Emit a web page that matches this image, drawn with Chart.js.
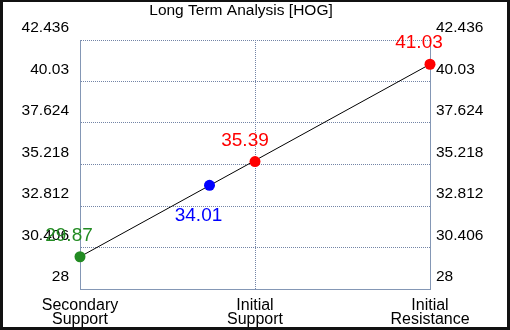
<!DOCTYPE html>
<html>
<head>
<meta charset="utf-8">
<script src="https://cdn.jsdelivr.net/npm/chart.js@4"></script>
<style>
html, body { margin: 0; padding: 0; background: #fff; }
canvas { display: block; }
</style>
</head>
<body>
<canvas id="levelsChart" width="510" height="330"></canvas>
<script>
// Chart data
const chartTitle = 'Long Term Analysis [HOG]';
const categories = [['Secondary', 'Support'], ['Initial', 'Support'], ['Initial', 'Resistance']];
const yTicks = [28, 30.406, 32.812, 35.218, 37.624, 40.03, 42.436];
const pointX = [0, 0.74, 1, 2];
const pointValues = [29.87, 34.01, 35.39, 41.03];
const pointColors = ['#228b22', '#0000ff', '#ff0000', '#ff0000'];
const trendX = [0, 2];
const trendValues = [29.87, 41.03];

const FONT = '"Liberation Sans", Arial, sans-serif';
const gridColor = '#7384a6';
const axisColor = '#8497b5';

// label offsets from each point (style only)
const labelOffsets = [[-11, -21], [-11, 30], [-10, -21], [-11, -21]];

// White background + dark frame
const framePlugin = {
    id: 'frame',
    beforeDraw(chart) {
        const ctx = chart.ctx;
        ctx.save();
        ctx.fillStyle = '#fff';
        ctx.fillRect(0, 0, chart.width, chart.height);
        ctx.restore();
    },
    afterDraw(chart) {
        const ctx = chart.ctx;
        const w = chart.width, h = chart.height;
        ctx.save();
        ctx.fillStyle = '#111';
        ctx.fillRect(0, 0, w, 2);
        ctx.fillRect(0, 0, 3, h);
        ctx.fillRect(w - 3, 0, 3, h);
        ctx.fillRect(0, h - 3, w, 3);
        ctx.restore();
    }
};

// Title text
const titlePlugin = {
    id: 'titleText',
    afterDraw(chart) {
        const ctx = chart.ctx;
        ctx.save();
        ctx.font = '15.5px ' + FONT;
        ctx.fillStyle = '#000';
        ctx.textAlign = 'center';
        ctx.textBaseline = 'alphabetic';
        ctx.fillText(chartTitle, 241, 15);
        ctx.restore();
    }
};

// Value labels next to points
const valueLabels = {
    id: 'valueLabels',
    afterDatasetsDraw(chart) {
        const ctx = chart.ctx;
        const meta = chart.getDatasetMeta(0);
        ctx.save();
        ctx.font = '19px ' + FONT;
        ctx.textAlign = 'center';
        ctx.textBaseline = 'middle';
        meta.data.forEach((pt, i) => {
            ctx.fillStyle = pointColors[i];
            ctx.fillText(pointValues[i].toFixed(2), pt.x + labelOffsets[i][0], pt.y + labelOffsets[i][1]);
        });
        ctx.restore();
    }
};

const yTickOpts = (padding) => ({
    color: '#000',
    font: { family: FONT, size: 15.5 },
    padding: padding,
    labelOffset: -12,
    callback: (v, i) => String(yTicks[i])
});

new Chart(document.getElementById('levelsChart'), {
    type: 'scatter',
    data: {
        datasets: [{
            data: pointX.map((x, i) => ({ x: x, y: pointValues[i] })),
            pointBackgroundColor: pointColors,
            pointBorderWidth: 0,
            pointRadius: 5.5,
            clip: false,
            order: 1
        }, {
            data: trendX.map((x, i) => ({ x: x, y: trendValues[i] })),
            showLine: true,
            borderColor: '#000',
            borderWidth: 1,
            pointRadius: 0,
            clip: false,
            order: 2
        }]
    },
    options: {
        responsive: false,
        animation: false,
        layout: { padding: { top: 40, left: 0, right: 0, bottom: 0 } },
        plugins: {
            legend: { display: false },
            tooltip: { enabled: false }
        },
        scales: {
            x: {
                type: 'linear',
                position: 'bottom',
                min: 0,
                max: 2,
                afterBuildTicks: s => { s.ticks = categories.map((c, i) => ({ value: i })); },
                afterFit: s => { s.height = 41; },
                grid: {
                    color: ctx => ctx.index === 1 ? gridColor : 'transparent',
                    drawTicks: false
                },
                border: { color: axisColor, dash: [1, 1] },
                ticks: {
                    color: '#000',
                    font: { family: FONT, size: 16, lineHeight: 0.875 },
                    padding: 10,
                    maxRotation: 0,
                    autoSkip: false,
                    callback: (v, i) => categories[i]
                }
            },
            y: {
                type: 'linear',
                position: 'left',
                min: yTicks[0],
                max: yTicks[yTicks.length - 1],
                afterBuildTicks: s => { s.ticks = yTicks.map(v => ({ value: v })); },
                afterFit: s => { s.width = 80; },
                grid: {
                    color: ctx => ctx.index === 0 ? 'transparent' : gridColor,
                    drawTicks: false
                },
                border: { color: axisColor, dash: [1, 1] },
                ticks: yTickOpts(11)
            },
            y2: {
                type: 'linear',
                position: 'right',
                display: true,
                min: yTicks[0],
                max: yTicks[yTicks.length - 1],
                afterBuildTicks: s => { s.ticks = yTicks.map(v => ({ value: v })); },
                afterFit: s => { s.width = 80; },
                grid: { drawOnChartArea: false, drawTicks: false },
                border: { color: axisColor },
                ticks: yTickOpts(6)
            }
        }
    },
    plugins: [framePlugin, titlePlugin, valueLabels]
});
</script>
</body>
</html>
